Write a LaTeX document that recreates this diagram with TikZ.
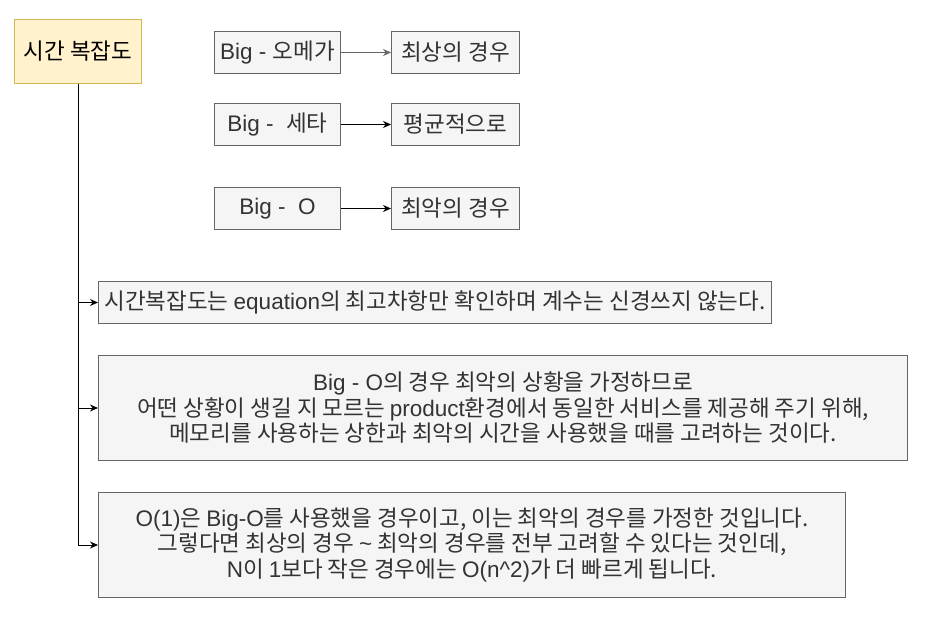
\documentclass[tikz,border=0pt]{standalone}
\usetikzlibrary{arrows.meta}
\usepackage{fontspec}
\setmainfont{Noto Sans CJK KR}
\newfontfamily\lafont{Liberation Sans}
\newcommand\la[1]{{\lafont #1}}
\definecolor{boxfill}{HTML}{F5F5F5}
\definecolor{boxline}{HTML}{666666}
\definecolor{boxtext}{HTML}{333333}
\definecolor{titlefill}{HTML}{FFF2CC}
\definecolor{titleline}{HTML}{D6B656}
\begin{document}
\begin{tikzpicture}[x=1pt,y=-1pt,
  gbox/.style={draw=boxline,fill=boxfill,text=boxtext,line width=1pt,inner sep=0pt,anchor=north west,align=center,font=\fontsize{22.5}{25.5}\selectfont},
  tbox/.style={draw=titleline,fill=titlefill,text=black,line width=1pt,inner sep=0pt,anchor=north west,align=center,font=\fontsize{22.5}{25.5}\selectfont},
  conn/.style={line width=1pt,-{Stealth[length=8pt,width=7pt]}}]
\useasboundingbox (0,0) rectangle (925,620);
\node[tbox,minimum width=127pt,minimum height=64pt] (title) at (14,19) {시간 복잡도};
\node[gbox,minimum width=126pt,minimum height=42pt] (omega) at (214,31) {\la{Big - }오메가};
\node[gbox,minimum width=128pt,minimum height=42pt] (best) at (391,31) {최상의 경우};
\node[gbox,minimum width=126pt,minimum height=42pt] (theta) at (214,103) {\la{Big -\ \ }세타};
\node[gbox,minimum width=128pt,minimum height=42pt] (avg) at (391,103) {평균적으로};
\node[gbox,minimum width=126pt,minimum height=42pt] (bigo) at (214,187) {\la{Big -\ \ O}};
\node[gbox,minimum width=128pt,minimum height=42pt] (worst) at (391,187) {최악의 경우};
\node[gbox,minimum width=673pt,minimum height=42pt] (n1) at (98,281) {시간복잡도는 \la{equation}의 최고차항만 확인하며 계수는 신경쓰지 않는다.};
\node[gbox,minimum width=809pt,minimum height=105pt] (n2) at (98,355) {\la{Big - O}의 경우 최악의 상황을 가정하므로\\어떤 상황이 생길 지 모르는 \la{product}환경에서 동일한 서비스를 제공해 주기 위해,\\메모리를 사용하는 상한과 최악의 시간을 사용했을 때를 고려하는 것이다.};
\node[gbox,minimum width=747pt,minimum height=105pt] (n3) at (98,492) {\la{O(1)}은 \la{Big-O}를 사용했을 경우이고, 이는 최악의 경우를 가정한 것입니다.\\그렇다면 최상의 경우 \la{\char`\~} 최악의 경우를 전부 고려할 수 있다는 것인데,\\\la{N}이 \la{1}보다 작은 경우에는 \la{O(n\char`\^2)}가 더 빠르게 됩니다.};
\draw[conn,draw=boxline] (omega) -- (best);
\draw[conn] (theta) -- (avg);
\draw[conn] (bigo) -- (worst);
\draw[conn] (title.south) |- (n1.west);
\draw[conn] (title.south) |- (n2.west);
\draw[conn] (title.south) |- (n3.west);
\end{tikzpicture}
\end{document}
